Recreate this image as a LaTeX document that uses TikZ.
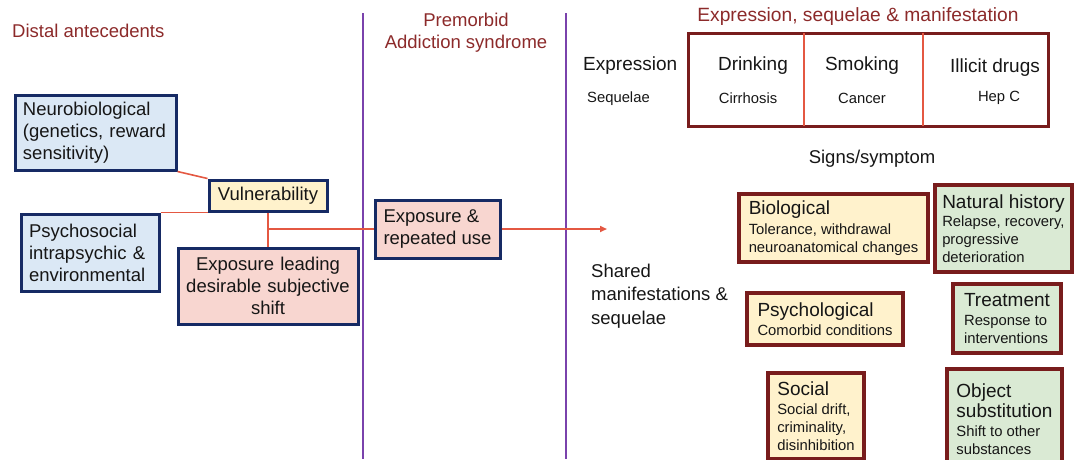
\documentclass[tikz,border=0pt]{standalone}
\usepackage{fontspec}
\setmainfont{Liberation Sans}
\usetikzlibrary{arrows.meta}

\definecolor{headred}{RGB}{140,42,42}
\definecolor{boxred}{RGB}{120,28,28}
\definecolor{navy}{RGB}{22,42,100}
\definecolor{linkred}{RGB}{228,88,66}
\definecolor{divpurple}{RGB}{122,66,172}
\definecolor{fillblue}{RGB}{219,232,245}
\definecolor{fillyellow}{RGB}{255,242,204}
\definecolor{fillpink}{RGB}{248,214,208}
\definecolor{fillgreen}{RGB}{218,234,212}
\definecolor{ink}{RGB}{22,22,22}

\newcommand{\bigtxt}{\fontsize{18.5}{22}\selectfont}
\newcommand{\titletxt}{\fontsize{19}{22}\selectfont}
\newcommand{\subtxt}{\fontsize{14.8}{17.8}\selectfont}

\tikzset{
  header/.style={text=headred, font=\bigtxt, inner sep=0pt},
  plain/.style={text=ink, inner sep=0pt},
  leftbox/.style={draw=navy, line width=3pt, text=ink, font=\bigtxt,
    inner xsep=8pt, inner ysep=4pt},
  rightbox/.style={draw=boxred, line width=3.6pt, text=ink, font=\subtxt,
    align=left, inner xsep=4pt, inner ysep=3pt},
  conn/.style={draw=linkred, line width=1.6pt},
  divider/.style={draw=divpurple, line width=1.6pt},
}

\begin{document}
\begin{tikzpicture}[x=1pt,y=-1pt]
\useasboundingbox (0,0) rectangle (1074,459);

% column separators
\draw[divider] (363,13) -- (363,459);
\draw[divider] (566,13) -- (566,459);

% column headings
\node[header, anchor=west] (hdist) at (12,31) {Distal antecedents};
\node[header, align=center] (hpre) at (466,33) {Premorbid\\Addiction syndrome};
\node[header, font=\fontsize{19.2}{22}\selectfont] (hexp) at (858,17)
  {Expression, sequelae \& manifestation};

% expression table
\node[draw=boxred, line width=3pt, minimum width=360pt, minimum height=93pt,
      inner sep=0pt] (table) at (868,79.5) {};
\draw[draw=linkred, line width=1.3pt] (804,33) -- (804,126);
\draw[draw=linkred, line width=1.3pt] (923,33) -- (923,126);

\node[plain, anchor=west, font=\titletxt] (expr) at (583,66) {Expression};
\node[plain, anchor=west, font=\subtxt] (seq) at (587,99) {Sequelae};
\node[plain, font=\titletxt] (drink) at (753,66) {Drinking};
\node[plain, font=\subtxt] (cirr) at (748,98) {Cirrhosis};
\node[plain, font=\titletxt] (smoke) at (862,66) {Smoking};
\node[plain, font=\subtxt] (canc) at (862,98) {Cancer};
\node[plain, font=\titletxt] (illic) at (995,68) {Illicit drugs};
\node[plain, font=\subtxt] (hepc) at (999,98) {Hep C};

\node[plain, font=\bigtxt] (signs) at (872,159) {Signs/symptom};
\node[plain, anchor=west, align=left, font=\fontsize{18.5}{23.5}\selectfont]
  (shared) at (591,296) {Shared\\manifestations \&\\sequelae};

% distal antecedents
\node[leftbox, fill=fillblue, align=left, text width=145pt,
      minimum height=75pt] (neuro) at (95.5,132.5)
  {Neurobiological\\(genetics, reward\\sensitivity)};
\node[leftbox, fill=fillblue, align=left, text width=122pt,
      minimum height=77pt] (psy) at (90,252.5)
  {Psychosocial\\intrapsychic \&\\environmental};
\node[leftbox, fill=fillyellow, align=center, minimum width=118pt,
      minimum height=31pt, inner ysep=2pt] (vul) at (268,195.5) {Vulnerability};
\node[leftbox, fill=fillpink, align=center, text width=164pt,
      minimum height=76pt] (lead) at (268,286)
  {Exposure leading\\desirable subjective\\shift};

% premorbid stage
\node[leftbox, fill=fillpink, align=left, minimum width=125pt,
      minimum height=58pt] (rep) at (437.5,229)
  {Exposure \&\\repeated use};

% links
\coordinate (fork) at (268,229);
\coordinate (tip) at (607,229);
\draw[conn] (neuro.south east) -- (vul.north west);
\draw[conn] (psy.north east) -- (vul.south west);
\draw[conn] (vul.south) -- (lead.north);
\draw[conn] (fork) -- (rep.west);
\draw[conn, -{Triangle[length=7pt,width=6pt]}] (rep.east) -- (tip);

% shared manifestations and sequelae
\node[rightbox, fill=fillyellow, minimum width=189pt, minimum height=68pt]
  (bio) at (833.5,228)
  {{\titletxt Biological}\\[2pt]Tolerance, withdrawal\\neuroanatomical changes};
\node[rightbox, fill=fillgreen, minimum width=137pt, minimum height=87pt]
  (nat) at (1003.5,228.5)
  {{\titletxt Natural history}\\[1pt]Relapse, recovery,\\progressive\\deterioration};
\node[rightbox, fill=fillgreen, minimum width=108pt, minimum height=69pt]
  (treat) at (1007,318.5)
  {{\titletxt Treatment}\\[2pt]Response to\\interventions};
\node[rightbox, fill=fillyellow, minimum width=156pt, minimum height=52pt]
  (psych) at (825,319)
  {{\titletxt Psychological}\\[1pt]Comorbid conditions};
\node[rightbox, fill=fillyellow, minimum width=96pt, minimum height=86pt]
  (soc) at (816,416)
  {{\titletxt Social}\\[2pt]Social drift,\\criminality,\\disinhibition};
\node[rightbox, fill=fillgreen, minimum width=115pt, minimum height=100pt]
  (obj) at (1004.5,419)
  {{\titletxt Object}\\[2pt]{\titletxt substitution}\\[1pt]Shift to other\\substances};
\end{tikzpicture}
\end{document}
